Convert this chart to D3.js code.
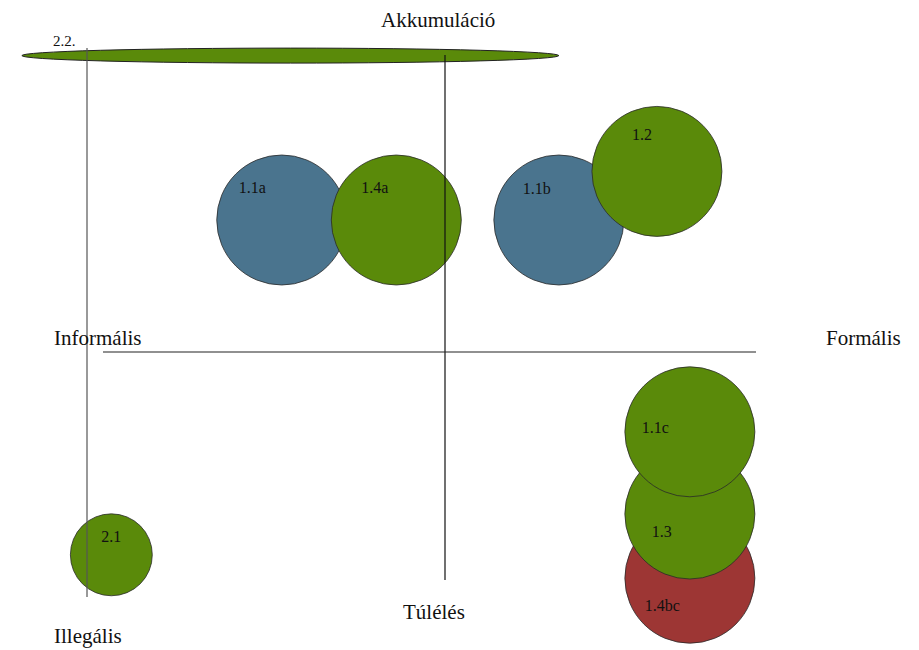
<!DOCTYPE html>
<html>
<head>
<meta charset="utf-8">
<script src="https://cdn.jsdelivr.net/npm/d3@7"></script>
<style>
  html, body { margin: 0; padding: 0; background: #fff; }
  svg { display: block; }
  text { font-family: "Liberation Serif", "Times New Roman", serif; fill: #111; }
</style>
</head>
<body>
<svg id="chart" width="919" height="650"></svg>
<script>
// ---- data ----
const names   = ["1.1a", "1.4a", "1.1b", "1.2", "1.4bc", "1.3", "1.1c", "2.1"];
const xValues = [-2.28, -0.68, 1.59, 2.96, 3.42, 3.42, 3.42, -4.66];   // Informális (-) ... Formális (+)
const yValues = [2.2, 2.2, 2.2, 3.01, -3.77, -2.7, -1.33, -3.38];     // Túlélés (-) ... Akkumuláció (+)
const sizes   = [1, 1, 1, 1, 1, 1, 1, 0.63];
const groups  = ["blue", "green", "blue", "green", "red", "green", "green", "green"];

const ellipseName = "2.2.";
const ellipseX = -2.16, ellipseY = 4.94, ellipseWidth = 7.5, ellipseHeight = 0.25;

const axisLabels = ["Akkumuláció", "Túlélés", "Informális", "Formális", "Illegális"];

// ---- layout / style ----
const colors = { blue: "#4a748e", green: "#5a8a0a", red: "#9d3634" };
const labelOffsets = [[-43,-27],[-35,-27],[-36,-26],[-25,-31],[-45,33],[-38,23],[-48,1],[-10,-13]];

const svg = d3.select("#chart");
const x = d3.scaleLinear().domain([-5, 5]).range([87, 803]);
const y = d3.scaleLinear().domain([-4, 5]).range([592, 52]);
const r = d3.scaleLinear().domain([0, 1]).range([0, 65]);

const data = names.map((n, i) => ({ name: n, x: xValues[i], y: yValues[i], s: sizes[i], g: groups[i], off: labelOffsets[i] }));

// ellipse 2.2.
svg.append("ellipse")
  .attr("cx", x(ellipseX)).attr("cy", y(ellipseY))
  .attr("rx", (x(ellipseWidth) - x(0)) / 2)
  .attr("ry", (y(0) - y(ellipseHeight)) / 2)
  .attr("fill", colors.green).attr("stroke", "#222").attr("stroke-width", 1);
svg.append("text")
  .attr("x", 53).attr("y", 46)
  .attr("font-size", 15).text(ellipseName);

// circles
svg.selectAll("circle.bubble").data(data).join("circle")
  .attr("class", "bubble")
  .attr("cx", d => x(d.x)).attr("cy", d => y(d.y)).attr("r", d => r(d.s))
  .attr("fill", d => colors[d.g]).attr("stroke", "#2a2a2a").attr("stroke-width", 0.8);

svg.selectAll("text.blabel").data(data).join("text")
  .attr("class", "blabel")
  .attr("x", d => x(d.x) + d.off[0]).attr("y", d => y(d.y) + d.off[1])
  .attr("font-size", 16).text(d => d.name);

// axis lines
svg.append("line").attr("x1", x(-5)).attr("x2", x(-5)).attr("y1", 48).attr("y2", 597)
  .attr("stroke", "#555").attr("stroke-width", 1.2);
svg.append("line").attr("x1", x(0)).attr("x2", x(0)).attr("y1", 55).attr("y2", 580)
  .attr("stroke", "#111").attr("stroke-width", 1.2);
svg.append("line").attr("x1", 103).attr("x2", 756).attr("y1", y(0)).attr("y2", y(0))
  .attr("stroke", "#222").attr("stroke-width", 1.2);

// axis labels
const labelPos = [[381, 27], [403, 619], [54, 345], [826, 345], [54, 643]];
svg.selectAll("text.alabel").data(axisLabels).join("text")
  .attr("class", "alabel")
  .attr("x", (d, i) => labelPos[i][0]).attr("y", (d, i) => labelPos[i][1])
  .attr("font-size", 21).text(d => d);
</script>
</body>
</html>
